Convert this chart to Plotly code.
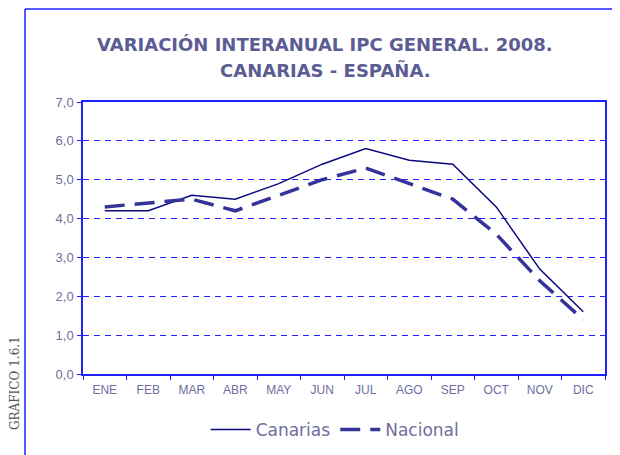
import plotly.graph_objects as go

meses = ["ENE", "FEB", "MAR", "ABR", "MAY", "JUN", "JUL", "AGO", "SEP", "OCT", "NOV", "DIC"]
canarias = [4.2, 4.2, 4.6, 4.5, 4.9, 5.4, 5.8, 5.5, 5.4, 4.3, 2.7, 1.6]
nacional = [4.3, 4.4, 4.5, 4.2, 4.6, 5.0, 5.3, 4.9, 4.5, 3.6, 2.4, 1.4]
y_ticks = [0, 1, 2, 3, 4, 5, 6, 7]
y_labels = ["0,0", "1,0", "2,0", "3,0", "4,0", "5,0", "6,0", "7,0"]

BLUE = "#2020ff"
TXT = "#6e6e9e"

fig = go.Figure()
fig.add_trace(go.Scatter(x=meses, y=canarias, name="Canarias", mode="lines",
                         line=dict(color="#0a0a80", width=1.5)))
fig.add_trace(go.Scatter(x=meses, y=nacional, name="Nacional", mode="lines",
                         line=dict(color="#333399", width=3.5, dash="20px,10px")))

fig.update_layout(
    width=620, height=455,
    margin=dict(l=75, r=23, t=94, b=89),
    paper_bgcolor="white", plot_bgcolor="white",
    showlegend=True,
    legend=dict(orientation="h", x=0.483, y=-0.206, xanchor="center", yanchor="middle",
                font=dict(family="DejaVu Sans", size=17, color=TXT),
                bgcolor="rgba(0,0,0,0)", itemwidth=40),
    xaxis=dict(type="category", range=[-0.5, 11.5], tickson="boundaries", showline=True,
               linecolor=BLUE, linewidth=1.5, mirror=True, ticks="outside", ticklen=4,
               tickcolor=BLUE, showgrid=False, ticklabelstandoff=4,
               tickfont=dict(family="Liberation Sans", size=12, color=TXT)),
    yaxis=dict(range=[0, 7], tickvals=y_ticks, ticktext=y_labels, showline=True,
               linecolor=BLUE, linewidth=1.5, mirror=True, ticks="outside", ticklen=4,
               tickcolor=BLUE, showgrid=True, gridcolor=BLUE, gridwidth=1,
               griddash="6px,5px", zeroline=False, ticklabelstandoff=1,
               tickfont=dict(family="Liberation Sans", size=13, color=TXT)),
)

fig.add_annotation(text="VARIACIÓN INTERANUAL IPC GENERAL. 2008.", xref="paper", yref="paper",
                   x=(325 - 83) / 522, y=(374 - 44) / 272, xanchor="center", yanchor="middle",
                   showarrow=False,
                   font=dict(family="DejaVu Sans", size=18, color="#5c5c94", weight="bold"))
fig.add_annotation(text="CANARIAS - ESPAÑA.", xref="paper", yref="paper",
                   x=(325 - 83) / 522, y=(374 - 70) / 272, xanchor="center", yanchor="middle",
                   showarrow=False,
                   font=dict(family="DejaVu Sans", size=18, color="#5c5c94", weight="bold"))
fig.add_annotation(text="GRÁFICO 1.6.1", xref="paper", yref="paper",
                   x=(14 - 83) / 522, y=(374 - 383) / 272, xanchor="center", yanchor="middle",
                   textangle=-90, showarrow=False,
                   font=dict(family="DejaVu Serif", size=12, color="#555555"))

# outer frame (top and left edges)
fig.add_shape(type="line", xref="paper", yref="paper",
              x0=(25 - 83) / 522, x1=(625 - 83) / 522, y0=(374 - 9) / 272, y1=(374 - 9) / 272,
              line=dict(color=BLUE, width=1.5))
fig.add_shape(type="line", xref="paper", yref="paper",
              x0=(25 - 83) / 522, x1=(25 - 83) / 522, y0=(374 - 9) / 272, y1=(374 - 460) / 272,
              line=dict(color=BLUE, width=1.5))

fig.write_html("out.html")
